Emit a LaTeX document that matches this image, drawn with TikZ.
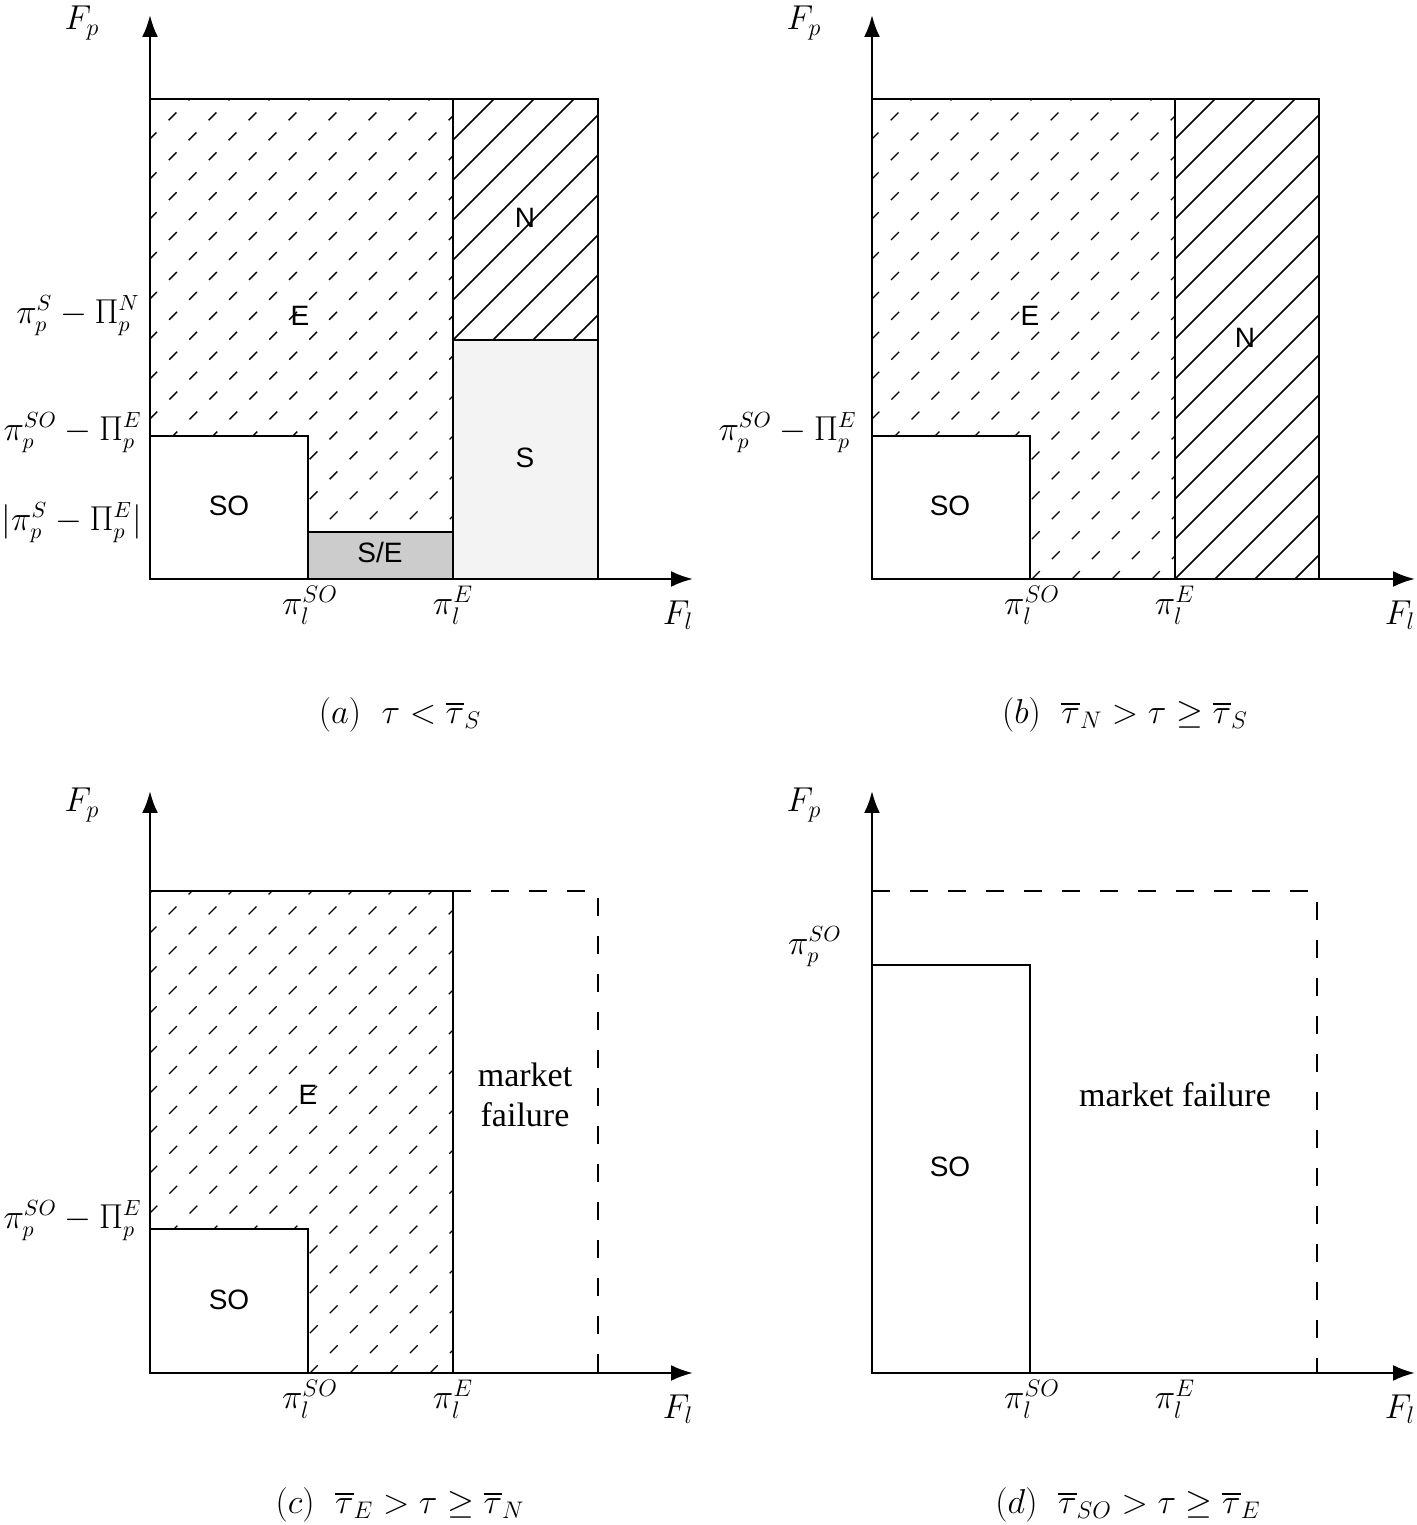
\documentclass[tikz,border=0pt]{standalone}
\usepackage{fontspec}
\usepackage{amsmath,amssymb}
\usetikzlibrary{arrows.meta}
\newfontfamily\lblfont{Liberation Sans}
\newfontfamily\mktfont{Liberation Serif}
\definecolor{cSE}{HTML}{CCCCCC}
\definecolor{cS}{HTML}{F3F3F3}
\tikzset{
  axis/.style={line width=1.3pt, -{Latex[length=11pt,width=8pt]}},
  region/.style={draw=black, line width=1.2pt},
  bound/.style={draw=black, line width=1.1pt, dash pattern=on 9pt off 10pt},
  hatchDash/.style={line width=0.7pt, dash pattern=on 5.5pt off 8.6pt},
  hatchLine/.style={line width=0.8pt},
  regLbl/.style={font=\lblfont\fontsize{14}{16}\selectfont, inner sep=1pt},
  mathLbl/.style={font=\fontsize{17}{20}\selectfont, inner sep=1pt},
  yLbl/.style={font=\fontsize{16}{19}\selectfont, inner sep=0pt, anchor=east},
  mktLbl/.style={font=\mktfont\fontsize{17}{20}\selectfont, align=center},
  capLbl/.style={font=\fontsize{17}{20}\selectfont},
}

\begin{document}
\begin{tikzpicture}[x=0.5pt, y=0.5pt]
\useasboundingbox (0,0) rectangle (1417,1525);

% ========== PANEL (a) ==========
\begin{scope}[shift={(150,946)}]
  \fill[cSE] (158,0) rectangle (303,47);
  \fill[cS] (303,0) rectangle (448,239);
  \begin{scope}
    \clip (0,143) -- (158,143) -- (158,47) -- (303,47) -- (303,480) -- (0,480) -- cycle;
    \foreach \k in {-13,...,8}
      \draw[hatchDash] ({\k*40},0) -- ++(560,560);
  \end{scope}
  \begin{scope}
    \clip (303,239) rectangle (448,480);
    \foreach \k in {-7,...,4}
      \draw[hatchLine] ({303+\k*40},239) -- ++(300,300);
  \end{scope}
  \draw[region] (0,0) rectangle (448,480);
  \draw[region] (303,0) -- (303,480);
  \draw[region] (303,239) -- (448,239);
  \draw[region] (0,0) rectangle (158,143);
  \draw[region] (158,0) rectangle (303,47);

  \coordinate (Oa) at (0,0);
  \coordinate (Ya) at (0,564);
  \coordinate (Xa) at (543,0);
  \draw[axis] (Oa) -- (Ya);
  \draw[axis] (Oa) -- (Xa);

  \node[regLbl] (Ea) at (150,263) {E};
  \node[regLbl] (Na) at (375,361) {N};
  \node[regLbl] (Sa) at (375,121) {S};
  \node[regLbl] (SOa) at (79,73) {SO};
  \node[regLbl] (SEa) at (230,26) {S/E};

  \node[mathLbl] (fpa) at (-68,556) {$F_p$};
  \node[mathLbl] (fla) at (528,-36) {$F_l$};
  \node[yLbl] (ySNa) at (-10,263) {$\pi_p^S-\Pi_p^N$};
  \node[yLbl] (ySOa) at (-8,146) {$\pi_p^{SO}-\Pi_p^E$};
  \node[yLbl] (ySEa) at (-8,56) {$|\pi_p^S-\Pi_p^E|$};
  \node[mathLbl] (xSOa) at (160,-26) {$\pi_l^{SO}$};
  \node[mathLbl] (xEa) at (303,-26) {$\pi_l^E$};
  \node[capLbl] (capa) at (250,-136) {$(a)\ \ \tau<\overline{\tau}_S$};
\end{scope}

% ========== PANEL (b) ==========
\begin{scope}[shift={(872,946)}]
  \begin{scope}
    \clip (0,143) -- (158,143) -- (158,0) -- (303,0) -- (303,480) -- (0,480) -- cycle;
    \foreach \k in {-13,...,8}
      \draw[hatchDash] ({\k*40},0) -- ++(560,560);
  \end{scope}
  \begin{scope}
    \clip (303,0) rectangle (447,480);
    \foreach \k in {-13,...,4}
      \draw[hatchLine] ({303+\k*40},0) -- ++(560,560);
  \end{scope}
  \draw[region] (0,0) rectangle (447,480);
  \draw[region] (303,0) -- (303,480);
  \draw[region] (0,0) rectangle (158,143);

  \coordinate (Ob) at (0,0);
  \coordinate (Yb) at (0,564);
  \coordinate (Xb) at (543,0);
  \draw[axis] (Ob) -- (Yb);
  \draw[axis] (Ob) -- (Xb);

  \node[regLbl] (Eb) at (158,263) {E};
  \node[regLbl] (Nb) at (373,241) {N};
  \node[regLbl] (SOb) at (78,73) {SO};

  \node[mathLbl] (fpb) at (-68,556) {$F_p$};
  \node[mathLbl] (flb) at (528,-36) {$F_l$};
  \node[yLbl] (ySOb) at (-15,146) {$\pi_p^{SO}-\Pi_p^E$};
  \node[mathLbl] (xSOb) at (160,-26) {$\pi_l^{SO}$};
  \node[mathLbl] (xEb) at (303,-26) {$\pi_l^E$};
  \node[capLbl] (capb) at (253,-136) {$(b)\ \ \overline{\tau}_N>\tau\geq\overline{\tau}_S$};
\end{scope}

% ========== PANEL (c) ==========
\begin{scope}[shift={(150,152)}]
  \begin{scope}
    \clip (0,144) -- (158,144) -- (158,0) -- (303,0) -- (303,482) -- (0,482) -- cycle;
    \foreach \k in {-13,...,8}
      \draw[hatchDash] ({\k*40},0) -- ++(560,560);
  \end{scope}
  \draw[region] (0,0) rectangle (303,482);
  \draw[region] (0,0) rectangle (158,144);
  \draw[bound] (303,482) -- (448,482) -- (448,0);

  \coordinate (Oc) at (0,0);
  \coordinate (Yc) at (0,582);
  \coordinate (Xc) at (543,0);
  \draw[axis] (Oc) -- (Yc);
  \draw[axis] (Oc) -- (Xc);

  \node[regLbl] (Ec) at (158,278) {E};
  \node[regLbl] (SOc) at (79,73) {SO};
  \node[mktLbl] (mfc) at (375,278) {market\\failure};

  \node[mathLbl] (fpc) at (-68,568) {$F_p$};
  \node[mathLbl] (flc) at (528,-36) {$F_l$};
  \node[yLbl] (ySOc) at (-8,152) {$\pi_p^{SO}-\Pi_p^E$};
  \node[mathLbl] (xSOc) at (160,-26) {$\pi_l^{SO}$};
  \node[mathLbl] (xEc) at (303,-26) {$\pi_l^E$};
  \node[capLbl] (capc) at (250,-132) {$(c)\ \ \overline{\tau}_E>\tau\geq\overline{\tau}_N$};
\end{scope}

% ========== PANEL (d) ==========
\begin{scope}[shift={(872,152)}]
  \draw[bound] (0,482) -- (445,482) -- (445,0);
  \draw[region] (0,0) rectangle (158,408);

  \coordinate (Od) at (0,0);
  \coordinate (Yd) at (0,582);
  \coordinate (Xd) at (543,0);
  \draw[axis] (Od) -- (Yd);
  \draw[axis] (Od) -- (Xd);

  \node[regLbl] (SOd) at (78,206) {SO};
  \node[mktLbl] (mfd) at (303,278) {market failure};

  \node[mathLbl] (fpd) at (-68,568) {$F_p$};
  \node[mathLbl] (fld) at (528,-36) {$F_l$};
  \node[yLbl] (ySOd) at (-30,426) {$\pi_p^{SO}$};
  \node[mathLbl] (xSOd) at (160,-26) {$\pi_l^{SO}$};
  \node[mathLbl] (xEd) at (303,-26) {$\pi_l^E$};
  \node[capLbl] (capd) at (256,-132) {$(d)\ \ \overline{\tau}_{SO}>\tau\geq\overline{\tau}_E$};
\end{scope}

\end{tikzpicture}
\end{document}
